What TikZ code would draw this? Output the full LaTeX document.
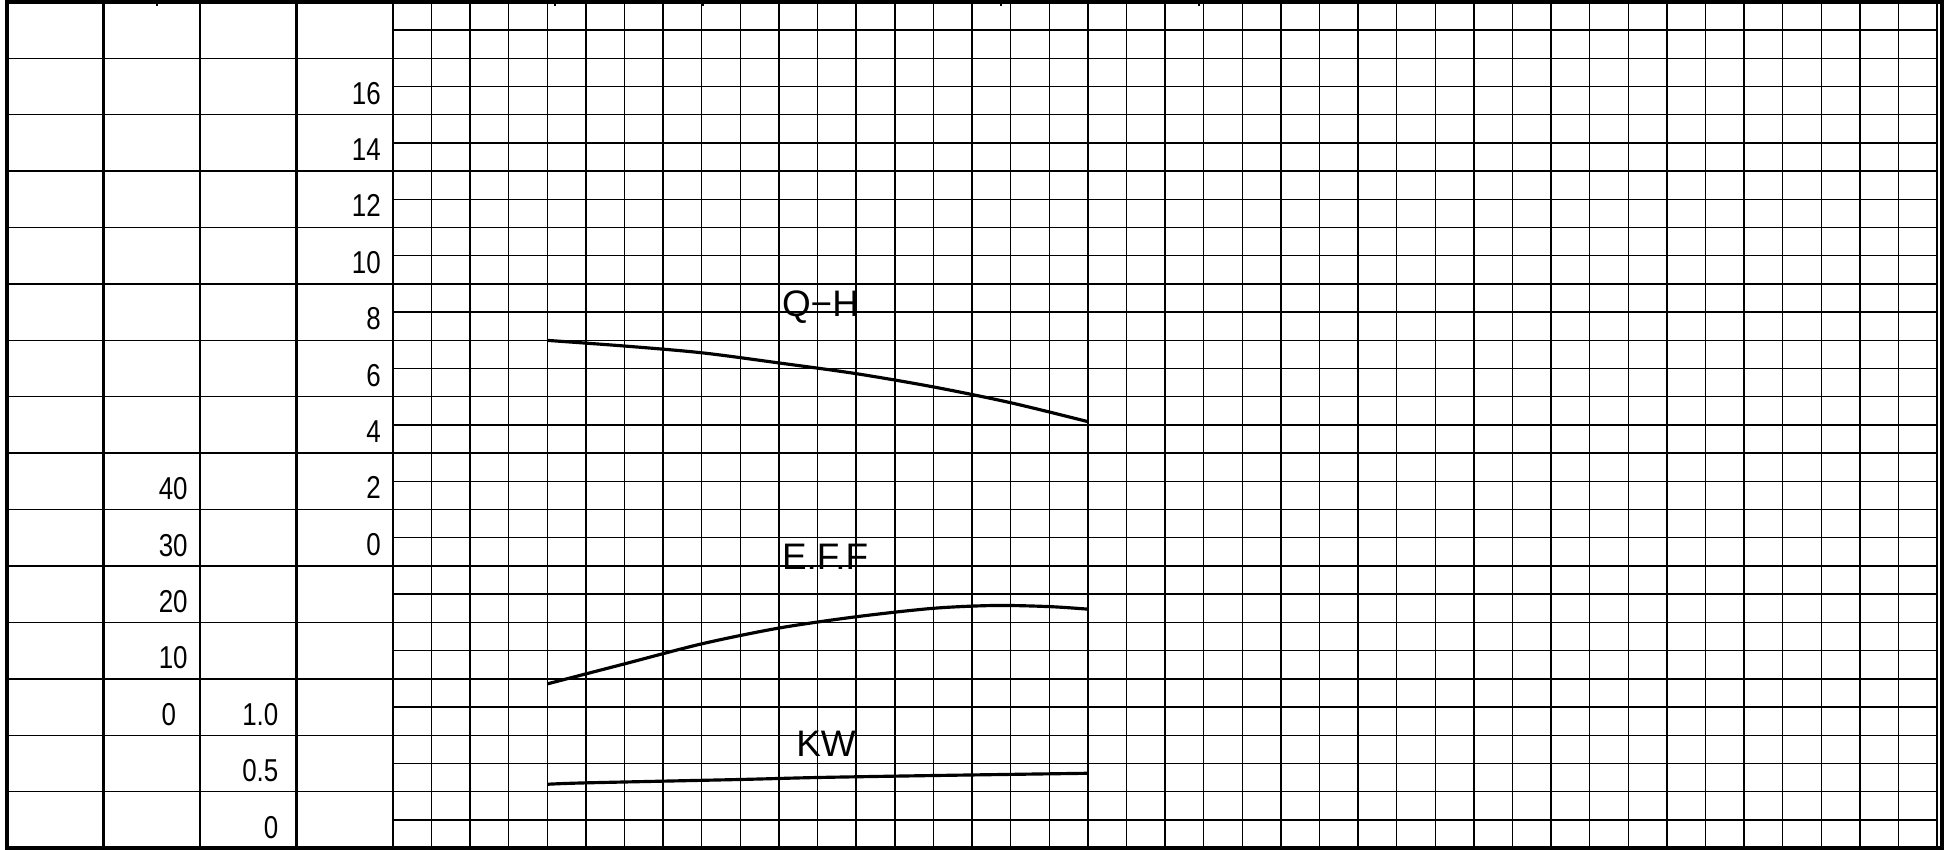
\documentclass[tikz,border=0pt]{standalone}
\usepackage{fontspec}
\setmainfont{Liberation Sans}
\newfontfamily\numfont[FakeStretch=0.82]{Liberation Sans}
\usetikzlibrary{positioning}

\begin{document}
\begin{tikzpicture}[x=0.386cm,y=0.282cm,
  thin grid/.style={line width=0.4pt},
  divider/.style={line width=0.7pt},
  frame/.style={line width=1.2pt},
  curve/.style={line width=0.9pt,line join=round},
  scalenum/.style={font=\numfont\fontsize{9}{9}\selectfont,anchor=base east,inner sep=0pt},
  curvelabel/.style={font=\fontsize{10.5}{10.5}\selectfont,anchor=base west,inner sep=0pt}]

\useasboundingbox (-10.18,-0.07) rectangle (40.18,30.07);

% grid and table
\foreach \i in {1,...,40} \draw[thin grid] (\i,0) -- (\i,30);
\foreach \j in {1,...,29} \draw[thin grid] (0,\j) -- (40,\j);
\foreach \j in {2,4,...,28} \draw[thin grid] (-10,\j) -- (0,\j);
\foreach \i in {-7.5,-5,-2.5,0} \draw[divider] (\i,0) -- (\i,30);
\draw[frame] (-10,0) rectangle (40.13,30);
\foreach \t in {-6.11,4.2,8.03,15.75,20.88}
  \draw[line width=0.6pt] (\t,30.07) -- (\t,29.85);

% scales
\foreach \v in {0,2,...,16}
  \node[scalenum] (head\v) at (-0.3,10.38+\v) {\v};
\foreach \v in {10,20,30,40}
  \node[scalenum] (eff\v) at (-5.3,4.35+\v/5) {\v};
\node[scalenum] (eff0) at (-5.6,4.35) {0};
\node[scalenum] (kw10) at (-2.95,4.35) {1.0};
\node[scalenum] (kw05) at (-2.95,2.35) {0.5};
\node[scalenum] (kw0) at (-2.95,0.35) {0};

% curves
\draw[curve] plot[smooth] coordinates {(4,18) (6,17.8) (8,17.56) (10,17.2)
  (12,16.82) (14,16.35) (16,15.79) (18,15.12)};
\draw[curve] plot[smooth] coordinates {(4,5.82) (6,6.53) (8,7.24) (10,7.8)
  (12,8.2) (14,8.5) (15.6,8.6) (17,8.56) (18,8.47)};
\draw[curve] plot[smooth] coordinates {(4,2.26) (5,2.31) (9,2.43) (11,2.5)
  (14,2.57) (18,2.65)};

\node[curvelabel] (QH) at (10.06,18.85) {Q−H};
\node[curvelabel] (EFF) at (10.06,9.88) {E.F.F};
\node[curvelabel] (KW) at (10.43,3.23) {KW};
\end{tikzpicture}
\end{document}
